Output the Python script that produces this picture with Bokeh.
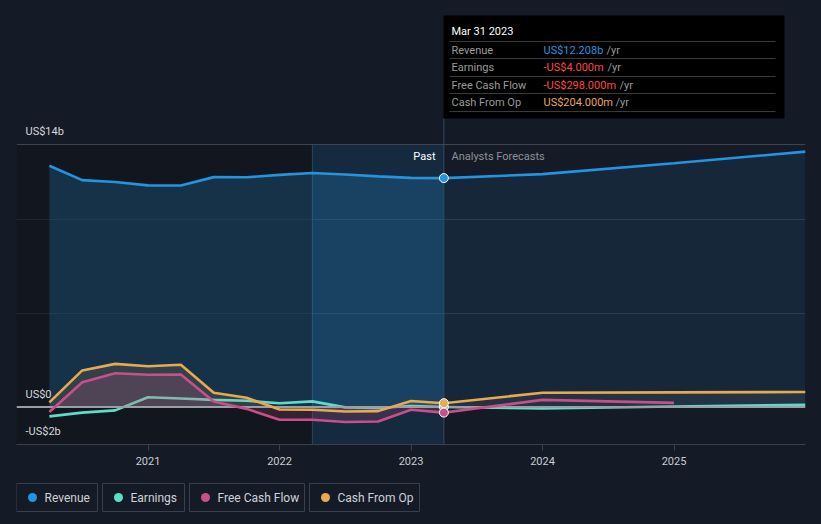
from bokeh.plotting import figure
from bokeh.layouts import column
from bokeh.models import Range1d, FixedTicker, ColumnDataSource
from bokeh.core.properties import value
from bokeh.embed import file_html
from bokeh.resources import INLINE

# ---------------- data (US$ billions) ----------------
past_dates = ["2020-03-31", "2020-06-30", "2020-09-30", "2020-12-31", "2021-03-31",
              "2021-06-30", "2021-09-30", "2021-12-31", "2022-03-31", "2022-06-30",
              "2022-09-30", "2022-12-31", "2023-03-31"]
fc_dates = ["2023-03-31", "2023-12-31", "2024-12-31", "2025-12-31"]
fcf_fc_dates = ["2023-03-31", "2023-12-31", "2024-12-31"]

revenue_past = [12.87, 12.10, 12.00, 11.82, 11.81, 12.26, 12.25, 12.38, 12.48, 12.40, 12.30, 12.22, 12.208]
revenue_fc = [12.208, 12.42, 13.00, 13.62]
earnings_past = [-0.50, -0.30, -0.18, 0.52, 0.45, 0.38, 0.33, 0.20, 0.30, -0.02, -0.05, 0.05, -0.004]
earnings_fc = [-0.004, -0.08, 0.03, 0.12]
fcf_past = [-0.27, 1.32, 1.80, 1.72, 1.73, 0.29, -0.10, -0.68, -0.68, -0.80, -0.77, -0.15, -0.298]
fcf_fc = [-0.298, 0.38, 0.22]
cfo_past = [0.25, 1.95, 2.30, 2.17, 2.25, 0.76, 0.49, -0.13, -0.15, -0.24, -0.22, 0.32, 0.204]
cfo_fc = [0.204, 0.76, 0.78, 0.80]

year_ticks = [2021, 2022, 2023, 2024, 2025]
y_labels = ["US$14b", "US$0", "-US$2b"]
y_label_vals = [14, 0, -2]

series_names = ["Revenue", "Earnings", "Free Cash Flow", "Cash From Op"]
series_colors = ["#2394df", "#5fdcc8", "#c94f8a", "#e8a94f"]

tip_title = "Mar 31 2023"
tip_values = ["US$12.208b", "-US$4.000m", "-US$298.000m", "US$204.000m"]
tip_value_colors = ["#2394df", "#ff4848", "#ff4848", "#e8a94f"]


def dec_year(s):
    y, m, d = (int(v) for v in s.split("-"))
    return y + m / 12.0


px_ = [dec_year(d) for d in past_dates]
fx_ = [dec_year(d) for d in fc_dates]
ffx_ = [dec_year(d) for d in fcf_fc_dates]
now_x = px_[-1]

# ---------------- geometry helpers (window px -> data) ----------------
X0, PXY = 16.0, 131.5       # window x of 2020.0, px per year
Y14, PXB = 144.0, 18.75     # window y of 14b, px per billion


def wx(px):
    return 2020.0 + (px - X0) / PXY


def wy(py):
    return 14.0 + (Y14 - py) / PXB


BG = "#151b26"
FONT = value("Roboto")

W, H_MAIN, H_LEG = 821, 470, 54

p = figure(width=W, height=H_MAIN, x_range=Range1d(2020.0, 2026.0), y_range=Range1d(-2.0, wy(8)),
           output_backend="svg", toolbar_location=None,
           min_border_left=16, min_border_right=16, min_border_top=8, min_border_bottom=26,
           background_fill_color=BG, border_fill_color=BG, outline_line_color=None)

p.yaxis.visible = False
p.xgrid.grid_line_color = None
p.ygrid.ticker = FixedTicker(ticks=[5, 10])
p.ygrid.grid_line_color = "#2a3340"
p.ygrid.grid_line_width = 1

ax = p.xaxis[0]
ax.ticker = FixedTicker(ticks=year_ticks)
ax.major_label_overrides = {t: str(t) for t in year_ticks}
ax.axis_line_color = "#3a414c"
ax.major_tick_line_color = "#3a414c"
ax.major_tick_in = 0
ax.major_tick_out = 6
ax.minor_tick_line_color = None
ax.major_label_standoff = 6
ax.major_label_text_color = "#c9ccd1"
ax.major_label_text_font = "Roboto"
ax.major_label_text_font_size = "11px"

# background regions
p.quad(left=[2020.0], right=[2022.25], bottom=[-2], top=[14], fill_color="#0d1118", fill_alpha=0.45, line_color=None)
p.quad(left=[2022.25], right=[now_x], bottom=[-2], top=[14], fill_color="#1f6aa3", fill_alpha=0.2, line_color=None)
p.segment(x0=[2022.25], y0=[-2], x1=[2022.25], y1=[14], line_color="#2a4761", line_width=1)

# top line
p.segment(x0=[2020.0], y0=[14], x1=[2026.0], y1=[14], line_color="#3d444f", line_width=1)

# revenue fill
p.varea(x=px_, y1=[0] * len(px_), y2=revenue_past, fill_color="#2394df", fill_alpha=0.22)
p.varea(x=fx_, y1=[0] * len(fx_), y2=revenue_fc, fill_color="#2394df", fill_alpha=0.1)

lw = 2.6
# earnings drawn beneath the cash fills
p.line(px_, earnings_past, line_color=series_colors[1], line_width=lw)
p.line(fx_, earnings_fc, line_color=series_colors[1], line_width=lw)

# other fills
p.varea(x=px_, y1=[0] * len(px_), y2=cfo_past, fill_color="#e8a94f", fill_alpha=0.13)
p.varea(x=fx_, y1=[0] * len(fx_), y2=cfo_fc, fill_color="#9aa0a8", fill_alpha=0.10)
p.varea(x=px_, y1=[0] * len(px_), y2=fcf_past, fill_color="#c94f8a", fill_alpha=0.2)

p.segment(x0=[2020.0], y0=[0], x1=[2026.0], y1=[0], line_color="#9a9ea5", line_width=2)

# lines
p.line(px_, revenue_past, line_color=series_colors[0], line_width=lw)
p.line(fx_, revenue_fc, line_color=series_colors[0], line_width=lw)
p.line(px_, fcf_past, line_color=series_colors[2], line_width=lw)
p.line(ffx_, fcf_fc, line_color=series_colors[2], line_width=lw)
p.line(px_, cfo_past, line_color=series_colors[3], line_width=lw)
p.line(fx_, cfo_fc, line_color=series_colors[3], line_width=lw)

# cursor line
p.segment(x0=[now_x], y0=[-2], x1=[now_x], y1=[wy(118)], line_color="#2e4c68", line_width=1)

# markers at the current point
p.scatter([now_x] * 4, [earnings_past[-1], fcf_past[-1], cfo_past[-1], revenue_past[-1]],
          size=9, fill_color=[series_colors[1], series_colors[2], series_colors[3], series_colors[0]],
          line_color="#ffffff", line_width=1)

# Past / forecast labels
p.text(x=[wx(435)], y=[wy(156)], text=["Past"], text_font=FONT, text_font_size="11px",
       text_color="#ffffff", text_align="right", text_baseline="middle")
p.text(x=[wx(451)], y=[wy(156)], text=["Analysts Forecasts"], text_font=FONT, text_font_size="11px",
       text_color="#8c9198", text_align="left", text_baseline="middle")

# y labels
p.text(x=[wx(25)] * 3, y=[v + 13 / PXB for v in y_label_vals], text=y_labels,
       text_font=FONT, text_font_size="11px", text_color="#d5d7db",
       text_align="left", text_baseline="middle")

# tooltip
p.quad(left=[wx(443)], right=[wx(784)], top=[wy(15)], bottom=[wy(118)], fill_color="#000000",
       line_color=None)
sep_y = [41, 58, 76, 93, 111]
p.segment(x0=[wx(449)] * len(sep_y), x1=[wx(775)] * len(sep_y), y0=[wy(s) for s in sep_y],
          y1=[wy(s) for s in sep_y], line_color="#3a3a3a", line_width=1)
p.text(x=[wx(451)], y=[wy(31)], text=[tip_title], text_font=FONT, text_font_size="11px",
       text_color="#ffffff", text_align="left", text_baseline="middle")
row_y = [49.5, 67, 84.5, 101.5]
p.text(x=[wx(451)] * 4, y=[wy(r) for r in row_y], text=series_names, text_font=FONT,
       text_font_size="11px", text_color="#9a9a9a", text_align="left", text_baseline="middle")
val_src = ColumnDataSource(dict(x=[wx(543)] * 4, y=[wy(r) for r in row_y],
                                t=tip_values, c=tip_value_colors))
p.text(x="x", y="y", text="t", source=val_src, text_font=FONT, text_font_size="11px",
       text_color="c", text_align="left", text_baseline="middle")
yr_x = [606, 607, 619, 615]
p.text(x=[wx(v) for v in yr_x], y=[wy(r) for r in row_y], text=["/yr"] * 4, text_font=FONT,
       text_font_size="11px", text_color="#9a9a9a", text_align="left", text_baseline="middle")

# ---------------- legend figure (window-pixel coordinates) ----------------
lg = figure(width=W, height=H_LEG, x_range=Range1d(16, W - 16), y_range=Range1d(H_MAIN + H_LEG, H_MAIN),
            output_backend="svg", toolbar_location=None,
            min_border_left=16, min_border_right=16, min_border_top=0, min_border_bottom=0,
            background_fill_color=BG, border_fill_color=BG, outline_line_color=None)
lg.axis.visible = False
lg.grid.grid_line_color = None
box_l = [16, 102, 189, 309]
box_r = [97, 184, 304, 419]
lg.quad(left=box_l, right=box_r, top=[483] * 4, bottom=[511] * 4, fill_color=None,
        line_color="#3a404b", line_width=1)
lg.scatter([b + 16 for b in box_l], [497] * 4, size=9, fill_color=series_colors, line_color=None)
lg.text(x=[b + 28 for b in box_l], y=[497] * 4, text=series_names, text_font=FONT,
        text_font_size="12px", text_color="#cfd2d6", text_align="left", text_baseline="middle")

layout = column(p, lg, spacing=0, styles={"background-color": BG})
html = file_html(layout, INLINE)
html = html.replace("<body>", '<body style="background-color:%s;">' % BG, 1)
open("out.html", "w").write(html)
